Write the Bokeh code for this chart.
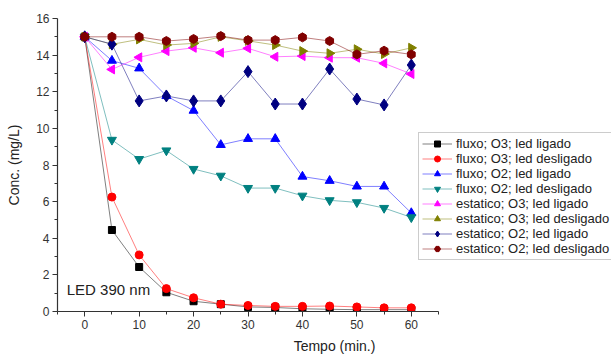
import numpy as np
from bokeh.plotting import figure
from bokeh.models import (Range1d, FixedTicker, Legend, LegendItem, Label)
from bokeh.embed import file_html
from bokeh.resources import INLINE

tempo = [0, 5, 10, 15, 20, 25, 30, 35, 40, 45, 50, 55, 60]

fluxo_o3_ligado = [15.0, 4.45, 2.43, 1.05, 0.56, 0.40, 0.25, 0.22, 0.15, 0.12, 0.10, 0.10, 0.10]
fluxo_o3_desligado = [15.0, 6.25, 3.09, 1.25, 0.75, 0.40, 0.33, 0.28, 0.28, 0.30, 0.25, 0.20, 0.20]
fluxo_o2_ligado = [15.0, 13.70, 13.28, 11.77, 10.97, 9.10, 9.43, 9.43, 7.37, 7.14, 6.83, 6.83, 5.38]
fluxo_o2_desligado = [15.0, 9.37, 8.32, 8.79, 7.78, 7.41, 6.74, 6.74, 6.32, 6.07, 5.96, 5.65, 5.14]
estatico_o3_ligado = [15.0, 13.22, 13.88, 14.22, 14.40, 14.13, 14.37, 13.91, 13.95, 13.86, 13.86, 13.55, 12.97]
estatico_o3_desligado = [15.0, 14.59, 14.86, 14.55, 14.64, 15.00, 14.78, 14.55, 14.22, 14.10, 14.32, 14.06, 14.40]
estatico_o2_ligado = [15.0, 14.60, 11.50, 11.77, 11.50, 11.50, 13.10, 11.33, 11.33, 13.24, 11.60, 11.28, 13.46]
estatico_o2_desligado = [15.0, 15.00, 15.00, 14.77, 14.88, 15.04, 14.82, 14.82, 14.97, 14.77, 14.04, 14.24, 14.04]

x_ticks = [0, 10, 20, 30, 40, 50, 60]
x_minor = [-5, 5, 15, 25, 35, 45, 55, 65]
y_ticks = [0, 2, 4, 6, 8, 10, 12, 14, 16]
y_minor = [1, 3, 5, 7, 9, 11, 13, 15]

FONT = "Liberation Sans"

# frame spans to the right edge so the legend (which overlaps the axis end) is not clipped;
# the x axis itself is limited to -5..65 via bounds
p = figure(width=611, height=356, output_backend="svg", toolbar_location=None,
           x_range=Range1d(-5, 96.78), y_range=Range1d(0, 16),
           min_border_left=57, min_border_top=18, min_border_right=0,
           min_border_bottom=44, background_fill_color="white",
           border_fill_color="white")
p.outline_line_color = None
p.xgrid.visible = False
p.ygrid.visible = False
p.xaxis.bounds = (-5, 65)

for ax in (p.xaxis[0], p.yaxis[0]):
    ax.axis_line_color = "#333333"
    ax.axis_line_width = 1.2
    ax.major_tick_line_color = "#333333"
    ax.minor_tick_line_color = "#333333"
    ax.major_tick_out = 5
    ax.major_tick_in = 0
    ax.minor_tick_out = 3
    ax.minor_tick_in = 0
    ax.major_label_text_font = FONT
    ax.major_label_text_font_size = "12px"
    ax.major_label_text_color = "#333333"
    ax.axis_label_text_font = FONT
    ax.axis_label_text_font_size = "14px"
    ax.axis_label_text_font_style = "normal"
    ax.axis_label_text_color = "#222222"

p.xaxis.ticker = FixedTicker(ticks=x_ticks, minor_ticks=x_minor)
p.yaxis.ticker = FixedTicker(ticks=y_ticks, minor_ticks=y_minor)
p.xaxis.major_label_standoff = 3
p.xaxis.axis_label = "Tempo (min.)"
p.xaxis.axis_label_standoff = 6
p.yaxis.major_label_standoff = 3
p.yaxis.axis_label = "Conc. (mg/L)"
p.yaxis.axis_label_standoff = 11

series = [
    ("fluxo; O3; led ligado", fluxo_o3_ligado, "#000000", "square", 7, 0.0),
    ("fluxo; O3; led desligado", fluxo_o3_desligado, "#FF0000", "circle", 8, 0.0),
    ("fluxo; O2; led ligado", fluxo_o2_ligado, "#0000FF", "triangle", 9, 0.0),
    ("fluxo; O2; led desligado", fluxo_o2_desligado, "#008080", "inverted_triangle", 9, 0.0),
    ("estatico; O3; led ligado", estatico_o3_ligado, "#FF00FF", "triangle", 9, np.pi / 2),
    ("estatico; O3; led desligado", estatico_o3_desligado, "#808000", "triangle", 9, -np.pi / 2),
    ("estatico; O2; led ligado", estatico_o2_ligado, "#000080", "diamond", 12, 0.0),
    ("estatico; O2; led desligado", estatico_o2_desligado, "#800000", "hex", 9, np.pi / 2),
]

items = []
for name, vals, color, marker, size, ang in series:
    ln = p.line(tempo, vals, line_color=color, line_width=1, line_alpha=0.5)
    sc = p.scatter(tempo, vals, marker=marker, size=size, angle=ang,
                   fill_color=color, line_color=color)
    items.append(LegendItem(label=name, renderers=[ln, sc]))

legend = Legend(items=items, location=(361, 51), orientation="vertical",
                label_text_font=FONT, label_text_font_size="13px",
                label_text_color="#222222",
                label_height=15, glyph_height=15, glyph_width=30,
                spacing=0, padding=3, margin=0, label_standoff=4,
                border_line_color="#999999", border_line_width=1,
                background_fill_color="white", background_fill_alpha=1.0)
p.add_layout(legend, "center")

lbl = Label(x=-3.3, y=1.2, text="LED 390 nm", text_font=FONT,
            text_font_size="15px", text_baseline="middle", text_align="left",
            text_color="#222222")
p.add_layout(lbl)

open("out.html", "w").write(file_html(p, INLINE))
